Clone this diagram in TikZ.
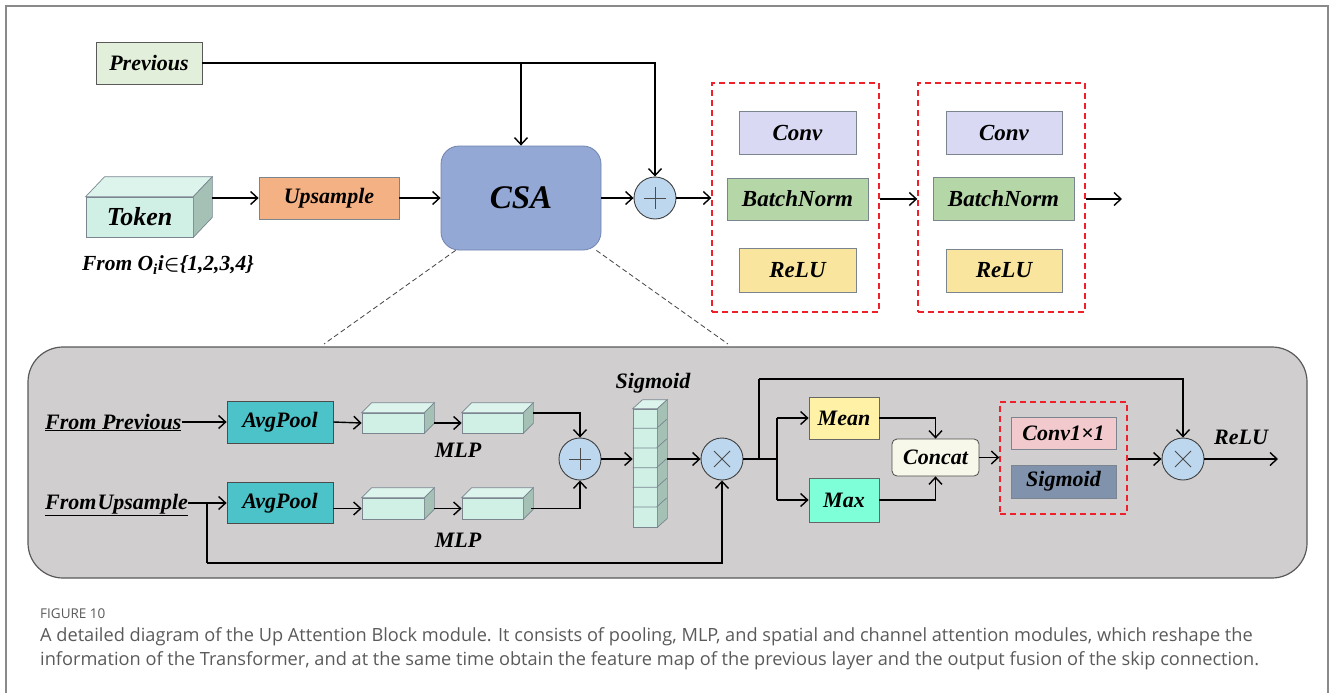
\documentclass[tikz,border=0pt]{standalone}
\usepackage{fontspec}
\setmainfont{Liberation Serif}
\newfontfamily\capfont{Open Sans}
\usetikzlibrary{arrows.meta,calc}

\definecolor{prevfill}{HTML}{E2EFDA}
\definecolor{cubefront}{HTML}{D0F0E5}
\definecolor{cubetopc}{HTML}{DDF4EC}
\definecolor{cubesidec}{HTML}{A5C0B5}
\definecolor{upsfill}{HTML}{F4B183}
\definecolor{csafill}{HTML}{94A8D6}
\definecolor{csaline}{HTML}{6F83AD}
\definecolor{opfill}{HTML}{BDD7EE}
\definecolor{convfill}{HTML}{D9D9F3}
\definecolor{bnfill}{HTML}{B5D7A8}
\definecolor{relufill}{HTML}{FAE59F}
\definecolor{panelfill}{HTML}{D0CECE}
\definecolor{avgfill}{HTML}{4BC3C8}
\definecolor{meanfill}{HTML}{FFF2A6}
\definecolor{maxfill}{HTML}{7FFFD8}
\definecolor{catfill}{HTML}{F8F8EA}
\definecolor{c11fill}{HTML}{F2C9CC}
\definecolor{sigfill}{HTML}{8092AC}
\definecolor{boxline}{HTML}{7A8590}
\definecolor{reddash}{HTML}{F0202A}
\definecolor{captext}{HTML}{5A5A5A}
\definecolor{framegray}{HTML}{8A8A8A}

\tikzset{
  lbl/.style={font=\fontsize{22}{26}\selectfont\bfseries\itshape},
  box/.style={draw=boxline, line width=0.8pt, inner sep=0pt, lbl},
  ln/.style={line width=1.4pt, draw=black},
  arr/.style={ln, -{Straight Barb[length=7pt,width=13pt]}},
  opcirc/.style={circle, draw=black!75, fill=opfill, line width=0.9pt, minimum size=42pt, inner sep=0pt},
  redbox/.style={draw=reddash, line width=1.4pt, dash pattern=on 6pt off 4pt, inner sep=0pt},
  cubetop/.style={draw=boxline, line width=0.7pt, fill=cubetopc},
  cubeside/.style={draw=boxline, line width=0.7pt, fill=cubesidec},
  cube/.style={draw=boxline, line width=0.7pt, fill=cubefront, inner sep=0pt},
  zoomline/.style={draw=black!75, line width=0.8pt, dash pattern=on 5pt off 3pt},
  captxt/.style={font=\capfont\fontsize{18.2}{22}\selectfont, text=captext, inner sep=0pt},
}

% top and side faces of a cuboid whose front face is node #1, depth (#2 right, #3 up)
\newcommand\cubefaces[3]{%
  \filldraw[cubetop] (#1.north west) -- ++(#2,-#3) -- ($(#1.north east)+(#2,-#3)$) -- (#1.north east) -- cycle;
  \filldraw[cubeside] (#1.north east) -- ++(#2,-#3) -- ($(#1.south east)+(#2,-#3)$) -- (#1.south east) -- cycle;
}
% plus and times marks inside operator circles
\newcommand\plusmark[1]{\draw[black!70, line width=0.9pt] ($(#1)+(-11,0)$) -- ($(#1)+(11,0)$) ($(#1)+(0,-11)$) -- ($(#1)+(0,11)$);}
\newcommand\timesmark[1]{\draw[black!70, line width=0.9pt] ($(#1)+(-8,-8)$) -- ($(#1)+(8,8)$) ($(#1)+(-8,8)$) -- ($(#1)+(8,-8)$);}

\begin{document}
\begin{tikzpicture}[x=1pt,y=-1pt]
\useasboundingbox (0,0) rectangle (1330,693);

% page frame
\draw[framegray, line width=1.6pt] (6,693) -- (6,6) -- (1328,6) -- (1328,693);

% ---------------- upper row ----------------
\node[box, draw=black!65, fill=prevfill, minimum width=106pt, minimum height=42pt] (prev) at (149,63) {Previous};

\node[cube, minimum width=107pt, minimum height=40pt] (tok) at (139.5,217) {};
\cubefaces{tok}{19}{20}
\node[lbl, font=\fontsize{26}{30}\selectfont\bfseries\itshape] at (tok) {Token};
\coordinate (tokout) at (212,198);

\node[lbl, font=\fontsize{21.5}{25}\selectfont\bfseries\itshape, anchor=center] (from) at (168,265) {From O\textsubscript{i}i{\boldmath$\in$}\{1,2,3,4\}};

\node[box, fill=upsfill, minimum width=140pt, minimum height=42pt] (ups) at (329,198) {Upsample};
\node[box, draw=csaline, fill=csafill, rounded corners=18pt, minimum width=160pt, minimum height=104pt,
      font=\fontsize{33}{38}\selectfont\bfseries\itshape] (csa) at (521,198) {CSA};
\node[opcirc] (plusA) at (655,198) {};
\plusmark{plusA}

\node[redbox, minimum width=167pt, minimum height=229pt] (dbA) at (795.5,197.5) {};
\node[box, fill=convfill, minimum width=117pt, minimum height=43pt, font=\fontsize{23}{27}\selectfont\bfseries\itshape] (convA) at (797.5,132.5) {Conv};
\node[box, fill=bnfill, minimum width=141pt, minimum height=42pt, font=\fontsize{23}{27}\selectfont\bfseries\itshape] (bnA) at (797.5,199) {BatchNorm};
\node[box, fill=relufill, minimum width=117pt, minimum height=44pt, font=\fontsize{23}{27}\selectfont\bfseries\itshape] (reluA) at (797.5,270) {ReLU};

\node[redbox, minimum width=167pt, minimum height=229pt] (dbB) at (1001.5,197.5) {};
\node[box, fill=convfill, minimum width=116pt, minimum height=43pt, font=\fontsize{23}{27}\selectfont\bfseries\itshape] (convB) at (1004,132.5) {Conv};
\node[box, fill=bnfill, minimum width=141pt, minimum height=43pt, font=\fontsize{23}{27}\selectfont\bfseries\itshape] (bnB) at (1003.5,198.5) {BatchNorm};
\node[box, fill=relufill, minimum width=116pt, minimum height=43pt, font=\fontsize{23}{27}\selectfont\bfseries\itshape] (reluB) at (1004,270.5) {ReLU};
\coordinate (outA) at (1122,199);

% upper connectors
\coordinate (split) at (csa.north |- prev.east);
\draw[arr] (prev.east) -| (plusA.north);
\draw[arr] (split) -- (csa.north);
\draw[arr] (tokout) -- (tokout -| ups.west);
\draw[arr] (ups.east) -- (csa.west);
\draw[arr] (csa.east) -- (plusA.west);
\draw[arr] (plusA.east) -- (plusA.east -| dbA.west);
\draw[arr] (dbA.east |- outA) -- (dbB.west |- outA);
\draw[arr] (dbB.east |- outA) -- (outA);

% ---------------- detail panel ----------------
\node[draw=black!65, line width=1.2pt, fill=panelfill, rounded corners=35pt, minimum width=1279pt, minimum height=231pt, inner sep=0pt] (panel) at (667.5,462.5) {};

\coordinate (zl) at (324,344);
\coordinate (zr) at (728,344);
\draw[zoomline] ($(csa.south west)+(15,0)$) -- (zl);
\draw[zoomline] ($(csa.south east)+(-5,0)$) -- (zr);

% channel branch inputs
\node[lbl, anchor=base west, inner sep=0pt] (fp) at (45,429) {\underline{From Previous}};
\node[lbl, anchor=base west, inner sep=0pt] (fu) at (45,509) {\underline{From\kern1pt Upsample}};

\node[box, draw=black!70, fill=avgfill, minimum width=106pt, minimum height=42pt] (apA) at (280,422) {AvgPool};
\node[box, draw=black!70, fill=avgfill, minimum width=106pt, minimum height=41pt] (apB) at (280,503) {AvgPool};

\node[cube, minimum width=62pt, minimum height=20pt] (mA1) at (393,423) {};
\cubefaces{mA1}{10}{10}
\node[cube, minimum width=61pt, minimum height=20pt] (mA2) at (492.5,423) {};
\cubefaces{mA2}{10}{10}
\node[cube, minimum width=62pt, minimum height=21pt] (mB1) at (393,508.5) {};
\cubefaces{mB1}{10}{10}
\node[cube, minimum width=61pt, minimum height=21pt] (mB2) at (492.5,508.5) {};
\cubefaces{mB2}{10}{10}

\node[lbl] (mlpA) at (458,450) {MLP};
\node[lbl] (mlpB) at (458,540) {MLP};

\node[opcirc] (plusB) at (580,459) {};
\plusmark{plusB}

% sigmoid weight column
\node[cube, minimum width=24pt, minimum height=118pt] (stk) at (645,468) {};
\cubefaces{stk}{10}{9}
\foreach \k in {1,...,5}{
  \draw[boxline, line width=0.7pt] ($(stk.north west)+(0,\k*19.667)$) -- ++(24,0) -- ++(10,-9);
}
\node[lbl] (sigl) at (653,383) {Sigmoid};
\coordinate (stkout) at (667,459);

\node[opcirc] (mulA) at (722,459) {};
\timesmark{mulA}

% spatial branch
\node[box, draw=black!60, fill=meanfill, minimum width=70pt, minimum height=42pt] (mean) at (844,418) {Mean};
\node[box, draw=black!60, fill=maxfill, minimum width=70pt, minimum height=44pt] (max) at (844,500) {Max};
\node[box, draw=black!70, fill=catfill, rounded corners=5pt, minimum width=87pt, minimum height=37pt] (cat) at (935.5,457.5) {Concat};

\node[redbox, minimum width=127pt, minimum height=112pt] (dbC) at (1063.5,458) {};
\node[box, fill=c11fill, minimum width=105pt, minimum height=32pt] (c11) at (1063.5,433) {Conv1×1};
\node[box, fill=sigfill, minimum width=105pt, minimum height=33pt] (sg) at (1063.5,481.5) {Sigmoid};

\node[opcirc] (mulB) at (1183,459) {};
\timesmark{mulB}
\node[lbl] (relul) at (1241,437) {ReLU};
\coordinate (outB) at (1278,459);

% panel connectors
\draw[arr] (fp.east |- apA.west) -- (apA.west);
\draw[arr] (apA.east) -- (mA1.west);
\draw[arr] ($(mA1.east)+(10,0)$) -- (mA2.west);
\draw[arr] ($(mA2.east)+(10,-10)$) -| (plusB.north);

\coordinate (ub) at (207,503);
\coordinate (ubot) at (207,563);
\draw[arr] (fu.east |- apB.west) -- (apB.west);
\draw[ln] (ub) -- (ubot);
\draw[arr] (ubot) -| (mulA.south);
\draw[arr] (apB.east |- mB1.west) -- (mB1.west);
\draw[arr] ($(mB1.east)+(10,0)$) -- (mB2.west);
\draw[arr] ($(mB2.east)+(8,0)$) -| (plusB.south);

\draw[arr] (plusB.east) -- (plusB.east -| stk.west);
\draw[arr] (stkout) -- (mulA.west);

\coordinate (jA) at (759,459);
\coordinate (jAtop) at (759,379);
\coordinate (jB) at (777,459);
\draw[ln] (mulA.east) -- (jB);
\draw[ln] (jA) -- (jAtop);
\draw[arr] (jAtop) -| (mulB.north);
\draw[ln] (jB |- mean.west) -- (jB |- max.west);
\draw[arr] (jB |- mean.west) -- (mean.west);
\draw[arr] (jB |- max.west) -- (max.west);
\draw[arr] (mean.east) -| (cat.north);
\draw[arr] (max.east) -| (cat.south);
\draw[arr] (cat.east) -- (cat.east -| dbC.west);
\draw[arr] (dbC.east |- mulB.west) -- (mulB.west);
\draw[arr] (mulB.east) -- (outB);

% ---------------- caption ----------------
\node[captxt, font=\capfont\fontsize{13.5}{16}\selectfont, anchor=base west] (fig) at (40,618) {FIGURE 10};
\node[captxt, anchor=base west] (capA) at (40,641) {A detailed diagram of the Up Attention Block module. It consists of pooling, MLP, and spatial and channel attention modules, which reshape the};
\node[captxt, anchor=base west] (capB) at (40,665) {information of the Transformer, and at the same time obtain the feature map of the previous layer and the output fusion of the skip connection.};
\end{tikzpicture}
\end{document}
